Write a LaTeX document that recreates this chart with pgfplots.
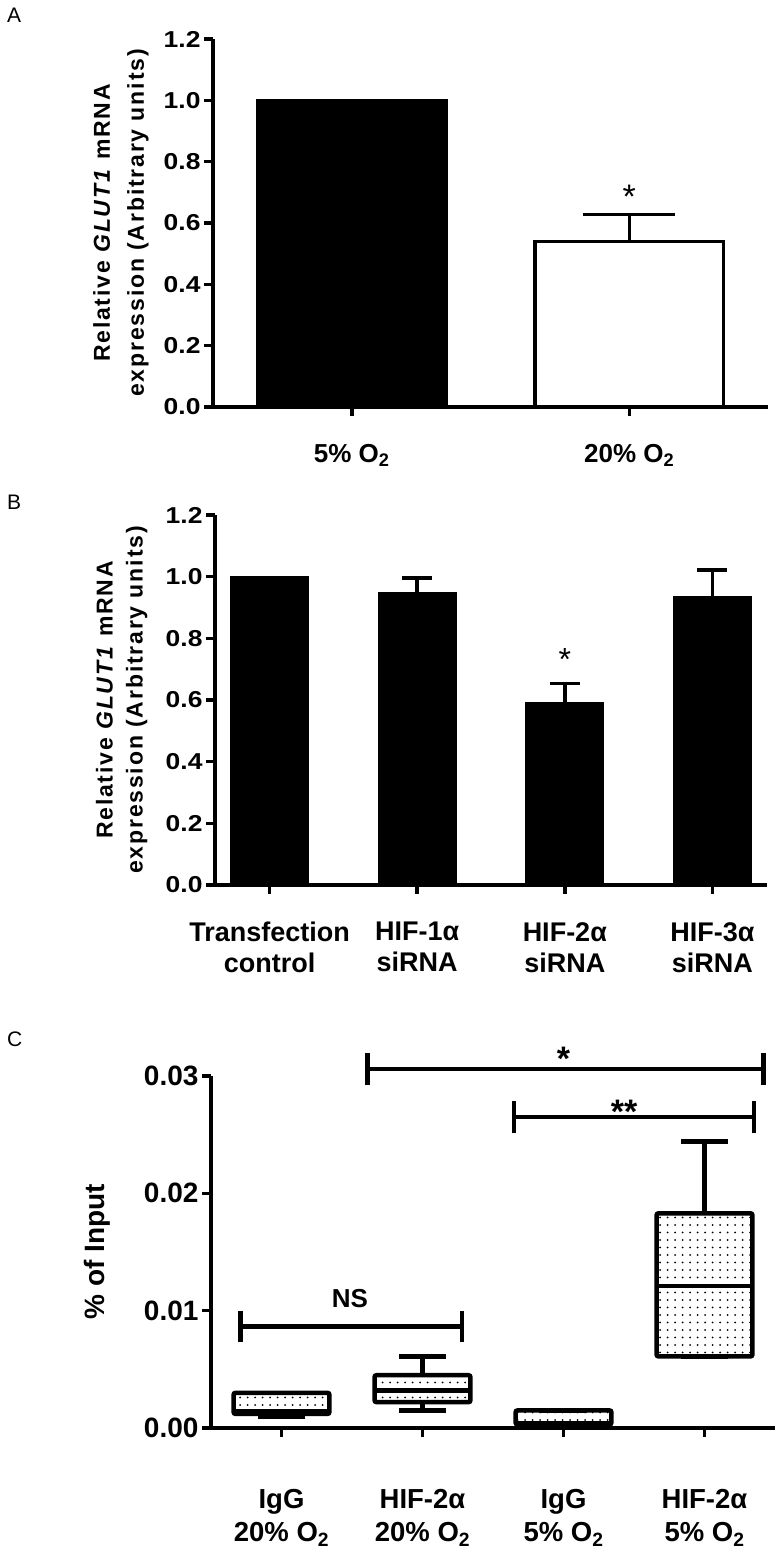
\documentclass[border=0pt]{standalone}
\usepackage{fontspec}
\setmainfont{Liberation Sans}
\newfontfamily\tickfont{Liberation Sans}[FakeStretch=1.15]
\newfontfamily\ylabfont{Liberation Sans}[LetterSpace=8]
\usepackage{pgfplots}
\pgfplotsset{compat=1.18}
\usepgfplotslibrary{statistics}
\usetikzlibrary{patterns}

\pgfdeclarepatternformonly{mydots}{\pgfqpoint{-1.2pt}{-1.2pt}}{\pgfqpoint{1.2pt}{1.2pt}}{\pgfqpoint{7.5pt}{7.5pt}}%
{\pgfpathcircle{\pgfqpoint{0pt}{0pt}}{1.0pt}\pgfusepath{fill}}

\pgfplotsset{
  myaxis/.style={
    scale only axis,
    axis lines=left,
    axis line style={line width=3.5pt,-},
    every tick/.style={line width=3.5pt,black},
    tick align=outside,
    major tick length=9pt,
    clip=false,
    /pgf/number format/assume math mode=true,
  },
}

\begin{document}
\begin{tikzpicture}
\path[use as bounding box] (0pt,0pt) rectangle (783pt,1555pt);

% Panel letters
\node[anchor=north west,inner sep=0pt,font=\fontsize{21}{24}\selectfont] at (7pt,1547pt) {A};
\node[anchor=north west,inner sep=0pt,font=\fontsize{21}{24}\selectfont] at (7pt,1060pt) {B};
\node[anchor=north west,inner sep=0pt,font=\fontsize{21}{24}\selectfont] at (7pt,523pt) {C};

% ---------------- Panel A ----------------
\begin{axis}[myaxis,
  at={(213pt,1148pt)}, anchor=south west,
  width=555pt, height=368pt,
  xmin=-0.5, xmax=1.5, ymin=0, ymax=1.2,
  ytick={0,0.2,0.4,0.6,0.8,1.0,1.2},
  yticklabel style={font=\tickfont\bfseries\fontsize{23}{26}\selectfont,
    /pgf/number format/.cd,fixed,fixed zerofill,precision=1},
  xtick={0,1},
  xticklabels={5\% O\textsubscript{2}, 20\% O\textsubscript{2}},
  xticklabel style={font=\bfseries\fontsize{26}{30}\selectfont,anchor=north,inner sep=0pt,yshift=-28pt},
  ylabel={Relative \textit{GLUT1} mRNA\\expression (Arbitrary units)},
  ylabel style={font=\ylabfont\bfseries\fontsize{23}{34}\selectfont,align=center,
    at={(axis description cs:-0.166,0.5)},anchor=center,rotate=0},
  ybar, bar width=0.68, bar shift=0pt,
]
\addplot[fill=black,draw=black,line width=3.5pt] coordinates {(0,1.0)};
\addplot[fill=white,draw=black,line width=3.5pt,
  error bars/.cd, y dir=plus, y explicit, error mark=|,
  error bar style={line width=3.5pt,black},
  error mark options={line width=3.5pt,mark size=46pt,black}]
  coordinates {(1,0.54) +- (0,0.087)};
\node[anchor=north,inner sep=0pt,font=\fontsize{34}{36}\selectfont] at (axis cs:1,0.724) {*};
\end{axis}

% ---------------- Panel B ----------------
\begin{axis}[myaxis,
  at={(215pt,670pt)}, anchor=south west,
  width=552pt, height=370pt,
  xmin=-0.37, xmax=3.37, ymin=0, ymax=1.2,
  ytick={0,0.2,0.4,0.6,0.8,1.0,1.2},
  yticklabel style={font=\tickfont\bfseries\fontsize{23}{26}\selectfont,
    /pgf/number format/.cd,fixed,fixed zerofill,precision=1},
  xtick={0,1,2,3},
  xticklabels={Transfection\\control, HIF-1α\\siRNA, HIF-2α\\siRNA, HIF-3α\\siRNA},
  xticklabel style={font=\bfseries\fontsize{27}{31}\selectfont,align=center,anchor=north,inner sep=0pt,yshift=-28pt},
  ylabel={Relative \textit{GLUT1} mRNA\\expression (Arbitrary units)},
  ylabel style={font=\ylabfont\bfseries\fontsize{23}{30}\selectfont,align=center,
    at={(axis description cs:-0.169,0.5)},anchor=center,rotate=0},
  ybar, bar width=0.53, bar shift=0pt,
]
\addplot[fill=black,draw=black,line width=1pt] coordinates {(0,1.0)};
\addplot[fill=black,draw=black,line width=1pt,
  error bars/.cd, y dir=plus, y explicit, error mark=|,
  error bar style={line width=3.5pt,black},
  error mark options={line width=3.5pt,mark size=15pt,black}]
  coordinates {(1,0.948) +- (0,0.047) (2,0.591) +- (0,0.063) (3,0.935) +- (0,0.087)};
\node[anchor=north,inner sep=0pt,font=\fontsize{32}{34}\selectfont] at (axis cs:2,0.769) {*};
\end{axis}

% ---------------- Panel C ----------------
\begin{axis}[myaxis,
  at={(211pt,127pt)}, anchor=south west,
  width=564pt, height=352pt,
  xmin=-0.5, xmax=3.5, ymin=0, ymax=0.03,
  ytick={0,0.01,0.02,0.03},
  scaled y ticks=false,
  yticklabel style={font=\bfseries\fontsize{28}{30}\selectfont,
    /pgf/number format/.cd,fixed,fixed zerofill,precision=2},
  xtick={0,1,2,3},
  xticklabels={IgG\\20\% O\textsubscript{2}, HIF-2α\\20\% O\textsubscript{2}, IgG\\5\% O\textsubscript{2}, HIF-2α\\5\% O\textsubscript{2}},
  xticklabel style={font=\bfseries\fontsize{27.5}{33}\selectfont,align=center,anchor=north,inner sep=0pt,yshift=-52pt},
  ylabel={\% of Input},
  ylabel style={font=\bfseries\fontsize{28}{30}\selectfont,
    at={(axis description cs:-0.202,0.5)},anchor=center,rotate=0},
  boxplot/draw direction=y,
  boxplot/box extend=0.68,
  boxplot/whisker extend=0.33,
]
\addplot[draw=black,line width=4.5pt,rounded corners=2pt,pattern=mydots,
  boxplot prepared={draw position=0,lower whisker=0.0010,lower quartile=0.0012,median=0.0014,upper quartile=0.0030,upper whisker=0.0030}]
  coordinates {};
\addplot[draw=black,line width=4.5pt,rounded corners=2pt,pattern=mydots,
  boxplot prepared={draw position=1,lower whisker=0.0015,lower quartile=0.0022,median=0.0032,upper quartile=0.0045,upper whisker=0.0061}]
  coordinates {};
\addplot[draw=black,line width=4.5pt,rounded corners=2pt,pattern=mydots,
  boxplot prepared={draw position=2,lower whisker=0.0002,lower quartile=0.0003,median=0.0004,upper quartile=0.0015,upper whisker=0.0015}]
  coordinates {};
\addplot[draw=black,line width=4.5pt,rounded corners=2pt,pattern=mydots,
  boxplot prepared={draw position=3,lower whisker=0.0061,lower quartile=0.0061,median=0.0121,upper quartile=0.0183,upper whisker=0.0244}]
  coordinates {};
% significance brackets
\addplot[black,line width=4.5pt] coordinates {(-0.29,0.00866) (1.28,0.00866)};
\addplot[black,line width=4.5pt] coordinates {(-0.29,0.0073) (-0.29,0.0100)};
\addplot[black,line width=4.5pt] coordinates {(1.28,0.0073) (1.28,0.0100)};
\addplot[black,line width=4.5pt] coordinates {(0.61,0.0306) (3.42,0.0306)};
\addplot[black,line width=4.5pt] coordinates {(0.61,0.0292) (0.61,0.0320)};
\addplot[black,line width=4.5pt] coordinates {(3.42,0.0292) (3.42,0.0320)};
\addplot[black,line width=4.5pt] coordinates {(1.65,0.0265) (3.35,0.0265)};
\addplot[black,line width=4.5pt] coordinates {(1.65,0.0251) (1.65,0.0279)};
\addplot[black,line width=4.5pt] coordinates {(3.35,0.0251) (3.35,0.0279)};
\node[anchor=north,inner sep=0pt,font=\bfseries\fontsize{26}{28}\selectfont] at (axis cs:0.485,0.01185) {NS};
\node[anchor=north,inner sep=0pt,font=\bfseries\fontsize{34}{36}\selectfont] at (axis cs:2.0,0.0325) {*};
\node[anchor=north,inner sep=0pt,font=\bfseries\fontsize{34}{36}\selectfont] at (axis cs:2.43,0.0280) {**};
\end{axis}
\end{tikzpicture}
\end{document}
